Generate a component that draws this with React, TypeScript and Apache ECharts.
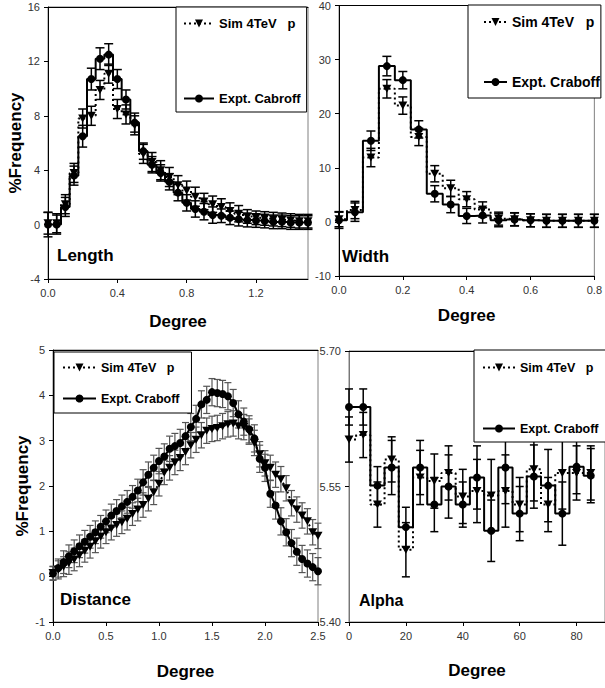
import React, { useEffect, useRef } from "react";
import * as echarts from "echarts";

const SIM = "Sim 4TeV   p";
const EXPT_TL = "Expt. Cabroff";
const EXPT = "Expt. Craboff";
const FONT = "Liberation Sans, Arial, sans-serif";
const TRI = "path://M0,0L10,0L5,10Z";

// Length panel
const lengthX = [0, 0.05, 0.1, 0.15, 0.2, 0.25, 0.3, 0.35, 0.4, 0.45, 0.5, 0.55, 0.6, 0.65, 0.7, 0.75, 0.8, 0.85, 0.9, 0.95, 1.0, 1.05, 1.1, 1.15, 1.2, 1.25, 1.3, 1.35, 1.4, 1.45, 1.5];
const lengthExpt = [0, 0, 1.3, 3.6, 6.5, 10.7, 12.2, 12.5, 10.7, 9.2, 7.5, 5.4, 4.4, 3.8, 3.15, 2.35, 1.6, 1.15, 0.95, 0.7, 0.65, 0.5, 0.4, 0.33, 0.3, 0.26, 0.2, 0.2, 0.15, 0.15, 0.15];
const lengthExptErr = [0.9, 0.7, 0.7, 0.7, 0.8, 0.8, 0.8, 0.8, 0.7, 0.7, 0.7, 0.6, 0.6, 0.6, 0.6, 0.6, 0.6, 0.6, 0.6, 0.6, 0.5, 0.5, 0.5, 0.5, 0.5, 0.5, 0.5, 0.5, 0.5, 0.5, 0.5];
const lengthSim = [0.1, 0.1, 1.5, 3.8, 7.8, 8.0, 9.9, 11.1, 8.5, 8.1, 7.3, 5.2, 4.6, 4.0, 3.5, 2.9, 2.5, 2.05, 1.7, 1.5, 1.3, 1.0, 0.8, 0.6, 0.5, 0.45, 0.4, 0.35, 0.3, 0.25, 0.25];
const lengthSimErr = [0.8, 0.7, 0.7, 0.7, 0.7, 0.7, 0.7, 0.7, 0.7, 0.7, 0.7, 0.7, 0.7, 0.7, 0.7, 0.7, 0.7, 0.7, 0.6, 0.6, 0.6, 0.6, 0.6, 0.5, 0.5, 0.5, 0.5, 0.5, 0.5, 0.5, 0.5];

// Width panel
const widthX = [0, 0.05, 0.1, 0.15, 0.2, 0.25, 0.3, 0.35, 0.4, 0.45, 0.5, 0.55, 0.6, 0.65, 0.7, 0.75, 0.8];
const widthExpt = [0.3, 1.8, 15.0, 28.8, 26.2, 17.1, 5.2, 3.2, 1.1, 1.2, 0.3, 0.45, 0.3, 0.2, 0.2, 0.2, 0.2];
const widthExptErr = [1.5, 1.7, 1.8, 1.8, 1.6, 1.6, 1.5, 1.5, 1.4, 1.4, 1.2, 1.2, 1.2, 1.2, 1.2, 1.2, 1.2];
const widthSim = [0.5, 2.2, 11.9, 24.6, 21.5, 15.7, 8.9, 6.2, 4.2, 2.3, 0.6, 0.5, 0.3, 0.2, 0.2, 0.2, 0.2];
const widthSimErr = [1.4, 1.6, 1.7, 1.7, 1.6, 1.6, 1.5, 1.5, 1.4, 1.4, 1.2, 1.2, 1.2, 1.2, 1.2, 1.2, 1.2];

// Distance panel
const distX = [0, 0.05, 0.1, 0.15, 0.2, 0.25, 0.3, 0.35, 0.4, 0.45, 0.5, 0.55, 0.6, 0.65, 0.7, 0.75, 0.8, 0.85, 0.9, 0.95, 1.0, 1.05, 1.1, 1.15, 1.2, 1.25, 1.3, 1.35, 1.4, 1.45, 1.5, 1.55, 1.6, 1.65, 1.7, 1.75, 1.8, 1.85, 1.9, 1.95, 2.0, 2.05, 2.1, 2.15, 2.2, 2.25, 2.3, 2.35, 2.4, 2.45, 2.5];
const distExpt = [0.07, 0.19, 0.32, 0.45, 0.56, 0.67, 0.77, 0.88, 0.98, 1.10, 1.22, 1.35, 1.45, 1.55, 1.65, 1.76, 1.90, 2.08, 2.25, 2.40, 2.55, 2.65, 2.82, 2.88, 2.95, 3.10, 3.30, 3.48, 3.80, 3.90, 4.07, 4.05, 4.03, 3.98, 3.83, 3.58, 3.42, 3.25, 3.05, 2.60, 2.40, 1.83, 1.57, 1.22, 0.98, 0.74, 0.55, 0.39, 0.29, 0.21, 0.12];
const distExptErr = [0.15, 0.2, 0.25, 0.25, 0.25, 0.25, 0.25, 0.25, 0.25, 0.25, 0.25, 0.25, 0.25, 0.25, 0.25, 0.25, 0.25, 0.28, 0.28, 0.28, 0.28, 0.28, 0.28, 0.28, 0.3, 0.3, 0.3, 0.3, 0.3, 0.3, 0.3, 0.3, 0.3, 0.3, 0.3, 0.3, 0.3, 0.3, 0.3, 0.3, 0.3, 0.3, 0.3, 0.3, 0.3, 0.3, 0.3, 0.3, 0.3, 0.3, 0.3];
const distSim = [0.08, 0.15, 0.22, 0.30, 0.38, 0.47, 0.57, 0.66, 0.78, 0.88, 0.98, 1.06, 1.14, 1.20, 1.28, 1.38, 1.48, 1.58, 1.72, 1.86, 2.05, 2.30, 2.40, 2.52, 2.62, 2.75, 2.90, 3.02, 3.12, 3.22, 3.26, 3.28, 3.32, 3.36, 3.38, 3.32, 3.30, 3.20, 2.95, 2.70, 2.50, 2.40, 2.25, 2.15, 1.95, 1.62, 1.48, 1.35, 1.22, 0.98, 0.90];
const distSimErr = [0.15, 0.2, 0.22, 0.25, 0.25, 0.25, 0.25, 0.25, 0.25, 0.25, 0.25, 0.25, 0.25, 0.25, 0.25, 0.25, 0.25, 0.27, 0.27, 0.27, 0.27, 0.27, 0.27, 0.27, 0.28, 0.28, 0.28, 0.28, 0.28, 0.28, 0.28, 0.28, 0.28, 0.28, 0.28, 0.28, 0.28, 0.28, 0.28, 0.28, 0.28, 0.28, 0.28, 0.28, 0.28, 0.28, 0.28, 0.28, 0.28, 0.28, 0.28];

// Alpha panel
const alphaX = [0, 5, 10, 15, 20, 25, 30, 35, 40, 45, 50, 55, 60, 65, 70, 75, 80, 85];
const alphaExpt = [5.638, 5.638, 5.551, 5.571, 5.505, 5.571, 5.530, 5.550, 5.530, 5.560, 5.501, 5.571, 5.520, 5.561, 5.551, 5.520, 5.572, 5.562];
const alphaExptErr = [0.02, 0.02, 0.021, 0.03, 0.022, 0.03, 0.03, 0.035, 0.025, 0.035, 0.034, 0.04, 0.03, 0.035, 0.04, 0.035, 0.03, 0.03];
const alphaSim = [5.602, 5.607, 5.530, 5.580, 5.480, 5.560, 5.556, 5.565, 5.539, 5.545, 5.540, 5.545, 5.530, 5.569, 5.530, 5.565, 5.565, 5.565];
const alphaSimErr = [0.025, 0.025, 0.025, 0.025, 0.03, 0.03, 0.03, 0.03, 0.03, 0.035, 0.04, 0.04, 0.03, 0.035, 0.03, 0.04, 0.03, 0.03];

const pairs = (xs: number[], ys: number[]) => xs.map((x, i) => [x, ys[i]]);
const triples = (xs: number[], ys: number[], es: number[]) => xs.map((x, i) => [x, ys[i], es[i]]);

function errSeries(name: string, xs: number[], ys: number[], es: number[], gi: number, color: string, cap: number, lw: number) {
  return {
    type: "custom",
    name,
    xAxisIndex: gi,
    yAxisIndex: gi,
    silent: true,
    z: 2,
    data: triples(xs, ys, es),
    renderItem: (params: any, api: any) => {
      const x = api.value(0);
      const y = api.value(1);
      const e = api.value(2);
      const p1 = api.coord([x, y + e]);
      const p2 = api.coord([x, y - e]);
      const st = { stroke: color, lineWidth: lw };
      return {
        type: "group",
        children: [
          { type: "line", shape: { x1: p1[0], y1: p1[1], x2: p2[0], y2: p2[1] }, style: st },
          { type: "line", shape: { x1: p1[0] - cap, y1: p1[1], x2: p1[0] + cap, y2: p1[1] }, style: st },
          { type: "line", shape: { x1: p2[0] - cap, y1: p2[1], x2: p2[0] + cap, y2: p2[1] }, style: st },
        ],
      };
    },
  };
}

function lineSeries(name: string, xs: number[], ys: number[], gi: number, sim: boolean, step: boolean) {
  return {
    type: "line",
    name,
    xAxisIndex: gi,
    yAxisIndex: gi,
    data: pairs(xs, ys),
    step: step ? "middle" : false,
    symbol: sim ? TRI : "circle",
    symbolSize: sim ? [9, 8] : 8,
    z: sim ? 3 : 4,
    lineStyle: { color: "#000", width: 2, type: sim ? [2, 3] : "solid" },
    itemStyle: { color: "#000" },
    emphasis: { disabled: true },
  };
}

const grids = [
  { left: 48, top: 7, width: 260, height: 272 },
  { left: 339, top: 5, width: 260, height: 271 },
  { left: 53, top: 350, width: 265, height: 272 },
  { left: 349, top: 351, width: 274.5, height: 271 },
];

const xRanges = [
  { min: 0, max: 1.5, interval: 0.4, dec: 1, showMax: false },
  { min: 0, max: 0.8, interval: 0.2, dec: 1, showMax: true },
  { min: 0, max: 2.5, interval: 0.5, dec: 1, showMax: true },
  { min: 0, max: 90, interval: 20, dec: 0, showMax: false },
];
const yRanges = [
  { min: -4, max: 16, interval: 4, dec: 0 },
  { min: -10, max: 40, interval: 10, dec: 0 },
  { min: -1, max: 5, interval: 1, dec: 0 },
  { min: 5.4, max: 5.7, interval: 0.15, dec: 2 },
];
const xNameGaps = [34, 31, 41, 40];

const labelStyle = { color: "#333", fontSize: 11, fontFamily: FONT };
const titleStyle = { color: "#000", fontSize: 17, fontWeight: "bold", fontFamily: FONT };

const xAxes: any[] = [];
grids.forEach((g, i) => {
  const r = xRanges[i];
  xAxes.push({
    type: "value",
    gridIndex: i,
    min: r.min,
    max: r.max,
    interval: r.interval,
    position: "bottom",
    name: "Degree",
    nameLocation: "middle",
    nameGap: xNameGaps[i],
    nameTextStyle: titleStyle,
    axisLine: { show: true, onZero: false, lineStyle: { color: "#000", width: 1 } },
    axisTick: { show: true, length: 4, lineStyle: { color: "#000" } },
    axisLabel: { ...labelStyle, margin: 8, showMaxLabel: r.showMax, formatter: (v: number) => v.toFixed(r.dec) },
    splitLine: { show: false },
  });
});
grids.forEach((g, i) => {
  const r = xRanges[i];
  xAxes.push({
    type: "value",
    gridIndex: i,
    min: r.min,
    max: r.max,
    position: "top",
    axisLine: { show: true, onZero: false, lineStyle: { color: "#000", width: 1 } },
    axisTick: { show: false },
    axisLabel: { show: false },
    splitLine: { show: false },
  });
});

const yAxes = grids.map((g, i) => {
  const r = yRanges[i];
  const withName = i === 0 || i === 2;
  return {
    type: "value",
    gridIndex: i,
    min: r.min,
    max: r.max,
    interval: r.interval,
    name: withName ? "%Frequency" : "",
    nameLocation: "middle",
    nameGap: 19,
    nameTextStyle: titleStyle,
    axisLine: { show: true, onZero: false, lineStyle: { color: i === 3 ? "#777" : "#000", width: 1 } },
    axisTick: { show: true, length: 4, lineStyle: { color: "#000" } },
    axisLabel: { ...labelStyle, margin: 8, formatter: (v: number) => v.toFixed(r.dec) },
    splitLine: { show: false },
  };
});

const legendBase = {
  orient: "vertical",
  selectedMode: false,
  itemHeight: 10,
  borderColor: "#000",
  borderWidth: 1,
  borderRadius: 0,
  backgroundColor: "#fff",
  z: 10,
};
const legends = [
  { ...legendBase, left: 176, top: 7, data: [SIM, EXPT_TL], itemWidth: 30, itemGap: 62, padding: [10, 6, 7, 7], textStyle: { fontSize: 13, fontWeight: "bold", color: "#000", fontFamily: FONT } },
  { ...legendBase, left: 468, top: 5, data: [SIM, EXPT], itemWidth: 23, itemGap: 46, padding: [10, 1, 9, 15], textStyle: { fontSize: 14, fontWeight: "bold", color: "#000", fontFamily: FONT } },
  { ...legendBase, left: 54, top: 352, data: [SIM, EXPT], itemWidth: 33, itemGap: 18, padding: [9, 12, 8, 8], textStyle: { fontSize: 12.5, fontWeight: "bold", color: "#000", fontFamily: FONT } },
  { ...legendBase, left: 474, top: 350, data: [SIM, EXPT], itemWidth: 32, itemGap: 48, padding: [11, 12, 7, 8], textStyle: { fontSize: 12.5, fontWeight: "bold", color: "#000", fontFamily: FONT } },
];

const panelLabels = [
  { text: "Length", x: 57, y: 255, size: 17 },
  { text: "Width", x: 342, y: 256, size: 17 },
  { text: "Distance", x: 60, y: 599, size: 17 },
  { text: "Alpha", x: 359, y: 600, size: 16 },
];

const option: any = {
  animation: false,
  backgroundColor: "#fff",
  textStyle: { fontFamily: FONT },
  grid: grids.map((g) => ({ ...g, show: true, borderColor: "#808080", borderWidth: 1, backgroundColor: "transparent" })),
  xAxis: xAxes,
  yAxis: yAxes,
  legend: legends,
  graphic: panelLabels.map((p) => ({
    type: "text",
    x: p.x,
    y: p.y,
    z: 20,
    style: {
      text: p.text,
      fontSize: p.size,
      fontWeight: "bold",
      fontFamily: FONT,
      fill: "#000",
      verticalAlign: "middle",
      textVerticalAlign: "middle",
    },
  })),
  series: [
    lineSeries(SIM, lengthX, lengthSim, 0, true, true),
    lineSeries(EXPT_TL, lengthX, lengthExpt, 0, false, true),
    lineSeries(SIM, widthX, widthSim, 1, true, true),
    lineSeries(EXPT, widthX, widthExpt, 1, false, true),
    lineSeries(SIM, distX, distSim, 2, true, false),
    lineSeries(EXPT, distX, distExpt, 2, false, false),
    lineSeries(SIM, alphaX, alphaSim, 3, true, true),
    lineSeries(EXPT, alphaX, alphaExpt, 3, false, true),
    errSeries("lengthSimErr", lengthX, lengthSim, lengthSimErr, 0, "#000", 4.5, 1.5),
    errSeries("lengthExptErr", lengthX, lengthExpt, lengthExptErr, 0, "#000", 4.5, 1.5),
    errSeries("widthSimErr", widthX, widthSim, widthSimErr, 1, "#000", 4.5, 1.5),
    errSeries("widthExptErr", widthX, widthExpt, widthExptErr, 1, "#000", 4.5, 1.5),
    errSeries("distSimErr", distX, distSim, distSimErr, 2, "#555", 3.5, 1.2),
    errSeries("distExptErr", distX, distExpt, distExptErr, 2, "#555", 3.5, 1.2),
    errSeries("alphaSimErr", alphaX, alphaSim, alphaSimErr, 3, "#000", 4, 1.5),
    errSeries("alphaExptErr", alphaX, alphaExpt, alphaExptErr, 3, "#000", 4, 1.5),
  ],
};

export default function App() {
  const ref = useRef<HTMLDivElement>(null);
  useEffect(() => {
    if (!ref.current) return;
    const chart = echarts.init(ref.current, null, { renderer: "svg" });
    chart.setOption(option);
    return () => chart.dispose();
  }, []);
  return (
    <div
      ref={ref}
      style={{ position: "absolute", left: 0, top: 0, width: 605, height: 688, background: "#fff", overflow: "hidden" }}
    />
  );
}
